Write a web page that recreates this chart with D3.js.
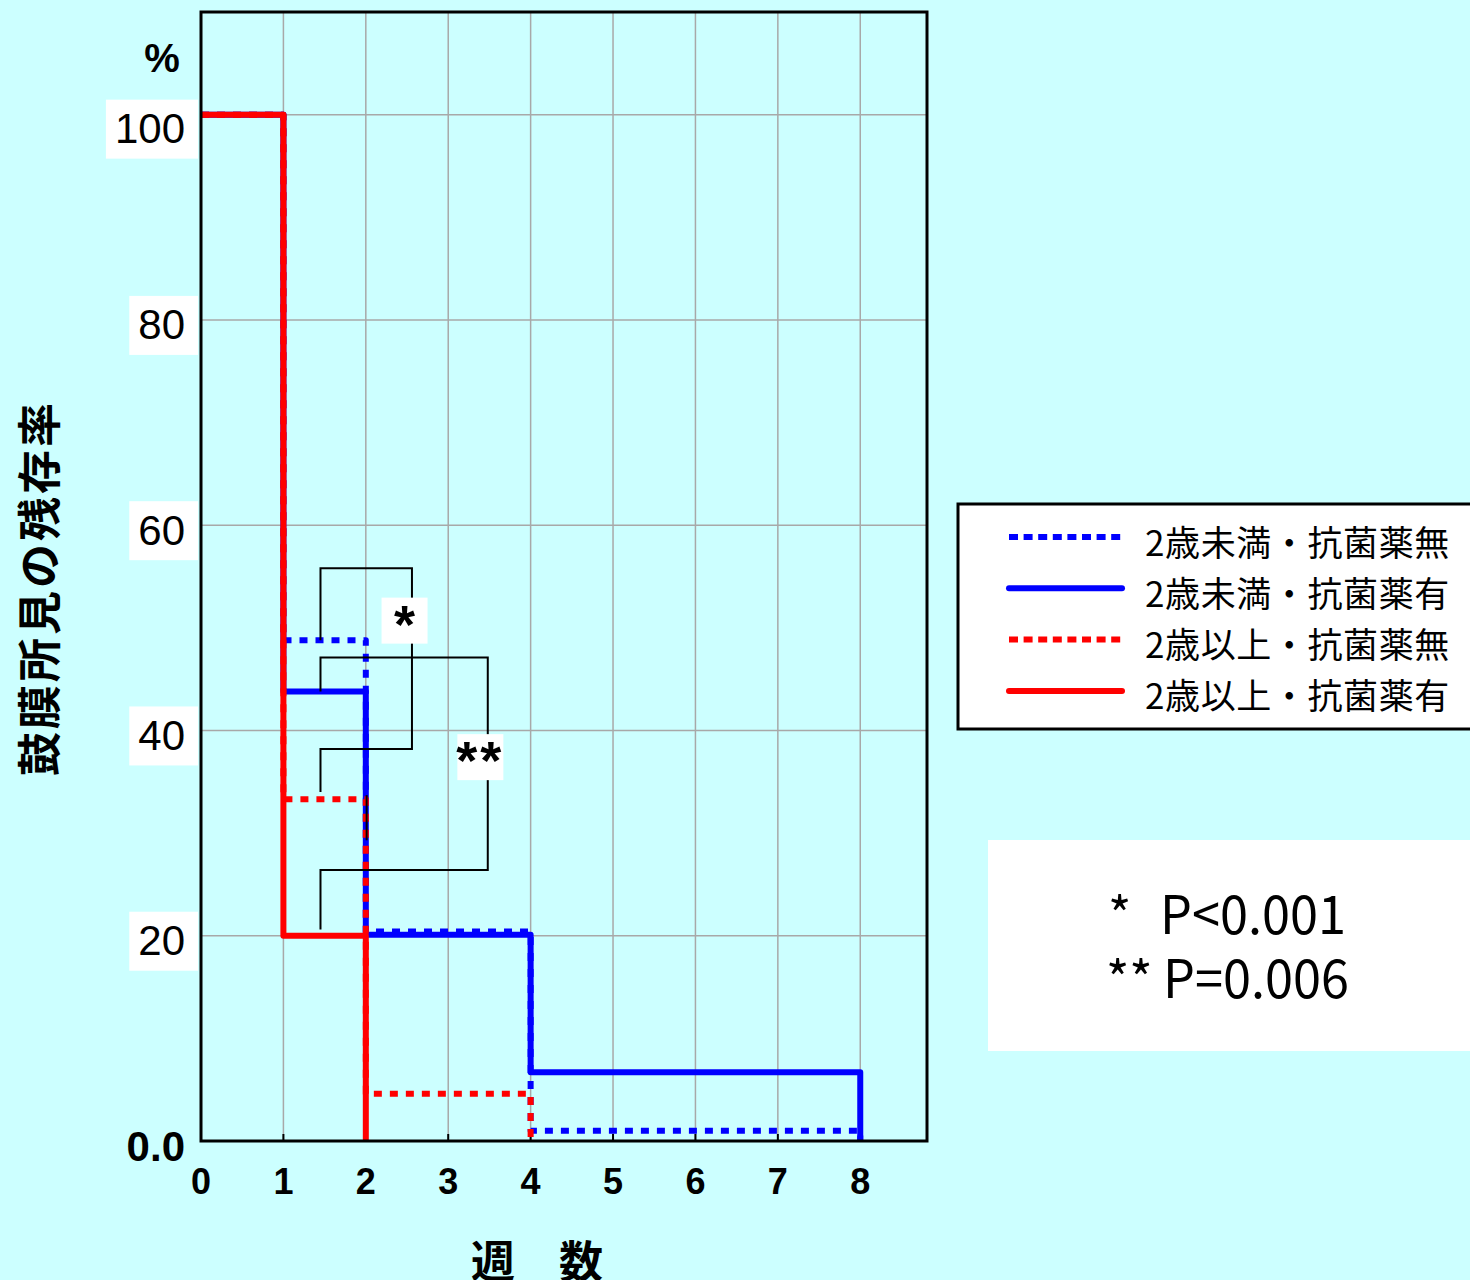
<!DOCTYPE html>
<html>
<head>
<meta charset="utf-8">
<script src="https://cdn.jsdelivr.net/npm/d3@7/dist/d3.min.js"></script>
<style>
  body { margin: 0; background: #ccffff; }
  svg { display: block; }
</style>
</head>
<body>
<svg id="chart" width="1470" height="1280"></svg>
<script>
// weeks at which the curves step
var weeks = [0, 1, 2, 4, 8];
var under2NoAbx = [100, 48.8, 20.4, 1.0, 0];
var under2Abx = [100, 43.8, 20.1, 6.7, 0];
var over2NoAbx = [100, 33.3, 4.6, 0];
var over2Abx = [100, 20, 0];
var seriesNames = ['2歳未満・抗菌薬無', '2歳未満・抗菌薬有', '2歳以上・抗菌薬無', '2歳以上・抗菌薬有'];
var xTicks = [0, 1, 2, 3, 4, 5, 6, 7, 8];
var yTicks = [0, 20, 40, 60, 80, 100];
var yTickLabels = ['0.0', '20', '40', '60', '80', '100'];
var pStars = ['*', '**'];
var pTexts = ['P<0.001', 'P=0.006'];

(function () {
  var svg = d3.select('#chart');
  var jp = "'Noto Sans CJK JP', sans-serif";
  var sans = "'Liberation Sans', Arial, sans-serif";

  var pLeft = 201, pRight = 927, pTop = 12, pBottom = 1141;
  var x = d3.scaleLinear().domain([0, 8.81]).range([pLeft, pRight]);
  var y = d3.scaleLinear().domain([0, 110]).range([pBottom, pTop]);

  svg.append('rect').attr('width', 1470).attr('height', 1280).attr('fill', '#ccffff');

  // grid
  svg.append('g').selectAll('line').data(xTicks.filter(function (d) { return d > 0; }))
    .enter().append('line')
    .attr('x1', function (d) { return x(d); }).attr('x2', function (d) { return x(d); })
    .attr('y1', pTop).attr('y2', pBottom)
    .attr('stroke', '#a8a8a8').attr('stroke-width', 1.5);
  svg.append('g').selectAll('line').data(yTicks.filter(function (d) { return d > 0; }))
    .enter().append('line')
    .attr('x1', pLeft).attr('x2', pRight)
    .attr('y1', function (d) { return y(d); }).attr('y2', function (d) { return y(d); })
    .attr('stroke', '#a8a8a8').attr('stroke-width', 1.5);

  // inner ticks on the bottom axis
  svg.append('g').selectAll('line').data(xTicks)
    .enter().append('line')
    .attr('x1', function (d) { return x(d); }).attr('x2', function (d) { return x(d); })
    .attr('y1', pBottom).attr('y2', pBottom - 7)
    .attr('stroke', '#000').attr('stroke-width', 2);

  // y tick labels with white boxes
  var yl = svg.append('g').selectAll('g').data(yTicks).enter().append('g');
  yl.append('text')
    .attr('x', 185).attr('y', function (d) { return y(d) + (d === 100 ? 14 : 5); })
    .attr('text-anchor', 'end').attr('dominant-baseline', 'central')
    .attr('font-family', sans)
    .attr('font-size', 42)
    .attr('font-weight', function (d) { return d === 0 ? 'bold' : 'normal'; })
    .text(function (d, i) { return yTickLabels[i]; });
  yl.each(function (d) {
    if (d === 0) return;
    var g = d3.select(this);
    var b = g.select('text').node().getBBox();
    g.insert('rect', 'text')
      .attr('x', b.x - 9).attr('y', b.y + b.height / 2 - 29)
      .attr('width', b.width + 22).attr('height', 59)
      .attr('fill', '#fff');
  });

  // x tick labels
  svg.append('g').selectAll('text').data(xTicks).enter().append('text')
    .attr('x', function (d) { return x(d); }).attr('y', 1181)
    .attr('text-anchor', 'middle').attr('dominant-baseline', 'central')
    .attr('font-family', sans)
    .attr('font-weight', 'bold').attr('font-size', 36)
    .text(function (d) { return d; });

  svg.append('text').attr('x', 162).attr('y', 58)
    .attr('text-anchor', 'middle').attr('dominant-baseline', 'central')
    .attr('font-family', sans)
    .attr('font-weight', 'bold').attr('font-size', 40)
    .text('%');

  // axis titles
  svg.append('text').attr('x', 537).attr('y', 1259)
    .attr('text-anchor', 'middle').attr('dominant-baseline', 'central')
    .attr('font-family', jp).attr('font-weight', 'bold').attr('font-size', 44)
    .text('週\u3000数');
  svg.append('text')
    .attr('transform', 'translate(37,588) rotate(-90)')
    .attr('text-anchor', 'middle').attr('dominant-baseline', 'central')
    .attr('font-family', jp).attr('font-weight', 'bold').attr('font-size', 44)
    .attr('letter-spacing', 3)
    .text('鼓膜所見の残存率');

  // survival curves (blue under red)
  var series = [
    { name: seriesNames[0], t: weeks, v: under2NoAbx, color: '#0000ff', dash: true },
    { name: seriesNames[1], t: weeks, v: under2Abx, color: '#0000ff', dash: false },
    { name: seriesNames[3], t: weeks.slice(0, over2Abx.length), v: over2Abx, color: '#ff0000', dash: false },
    { name: seriesNames[2], t: weeks.slice(0, over2NoAbx.length), v: over2NoAbx, color: '#ff0000', dash: true }
  ];
  var line = d3.line()
    .x(function (d) { return x(d[0]); })
    .y(function (d) { return y(d[1]); })
    .curve(d3.curveStepAfter);

  svg.append('g').selectAll('path').data(series).enter().append('path')
    .attr('d', function (s) { return line(s.t.map(function (t, i) { return [t, s.v[i]]; })); })
    .attr('fill', 'none')
    .attr('stroke', function (s) { return s.color; })
    .attr('stroke-width', 6)
    .attr('stroke-linejoin', 'round')
    .attr('stroke-dasharray', function (s) { return s.dash ? '8,8' : null; });

  // significance brackets
  var brackets = [
    [[1.45, 48.8], [1.45, 55.8], [2.56, 55.8], [2.56, 38.2], [1.45, 38.2], [1.45, 34.0]],
    [[1.45, 43.8], [1.45, 47.1], [3.48, 47.1], [3.48, 26.4], [1.45, 26.4], [1.45, 20.6]],
    [[2.01, 33.7], [2.01, 29.3]]
  ];
  var pl = d3.line().x(function (d) { return x(d[0]); }).y(function (d) { return y(d[1]); });
  svg.append('g').selectAll('path').data(brackets).enter().append('path')
    .attr('d', pl).attr('fill', 'none').attr('stroke', '#000').attr('stroke-width', 2);

  var marks = [{ t: '*', x: 2.47, y: 50.7 }, { t: '**', x: 3.39, y: 37.4 }];
  var mg = svg.append('g').selectAll('g').data(marks).enter().append('g');
  mg.append('rect')
    .attr('x', function (d) { return x(d.x) - 23; }).attr('y', function (d) { return y(d.y) - 23; })
    .attr('width', 46).attr('height', 46).attr('fill', '#fff');
  mg.append('text')
    .attr('x', function (d) { return x(d.x); }).attr('y', function (d) { return y(d.y) + 22; })
    .attr('text-anchor', 'middle')
    .attr('font-family', sans)
    .attr('font-weight', 'bold').attr('font-size', 54)
    .attr('letter-spacing', function (d) { return d.t.length > 1 ? 3 : 0; })
    .text(function (d) { return d.t; });

  // frame
  svg.append('rect')
    .attr('x', pLeft).attr('y', pTop).attr('width', pRight - pLeft).attr('height', pBottom - pTop)
    .attr('fill', 'none').attr('stroke', '#000').attr('stroke-width', 3);

  // legend
  var lg = svg.append('g');
  lg.append('rect').attr('x', 958).attr('y', 504).attr('width', 530).attr('height', 225)
    .attr('fill', '#fff').attr('stroke', '#000').attr('stroke-width', 3);
  var legendOrder = [series[0], series[1], series[3], series[2]];
  var li = lg.selectAll('g').data(legendOrder).enter().append('g')
    .attr('transform', function (d, i) { return 'translate(0,' + (537 + i * 51.3) + ')'; });
  li.append('line')
    .attr('x1', 1009).attr('x2', 1122).attr('y1', 0).attr('y2', 0)
    .attr('stroke', function (d) { return d.color; })
    .attr('stroke-width', 6)
    .attr('stroke-linecap', function (d) { return d.dash ? 'butt' : 'round'; })
    .attr('stroke-dasharray', function (d) { return d.dash ? '9,5.6' : null; });
  li.append('text')
    .attr('x', 1145).attr('y', 3)
    .attr('dominant-baseline', 'central')
    .attr('font-family', jp).attr('font-size', 35)
    .attr('letter-spacing', 0.6)
    .text(function (d) { return d.name; });

  // p-value box
  svg.append('rect').attr('x', 988).attr('y', 840).attr('width', 490).attr('height', 211).attr('fill', '#fff');
  var pg = svg.append('g').selectAll('g').data(pTexts).enter().append('g');
  pg.append('text')
    .attr('x', function (d, i) { return i === 0 ? 1108 : 1106; })
    .attr('y', function (d, i) { return 934 + i * 64; })
    .attr('font-family', jp).attr('font-size', 50)
    .text(function (d, i) { return pStars[i]; });
  pg.append('text')
    .attr('x', function (d, i) { return i === 0 ? 1160 : 1163; })
    .attr('y', function (d, i) { return 934 + i * 64; })
    .attr('font-family', jp).attr('font-size', 53)
    .attr('textLength', 186).attr('lengthAdjust', 'spacingAndGlyphs')
    .text(function (d) { return d; });
})();
</script>
</body>
</html>
